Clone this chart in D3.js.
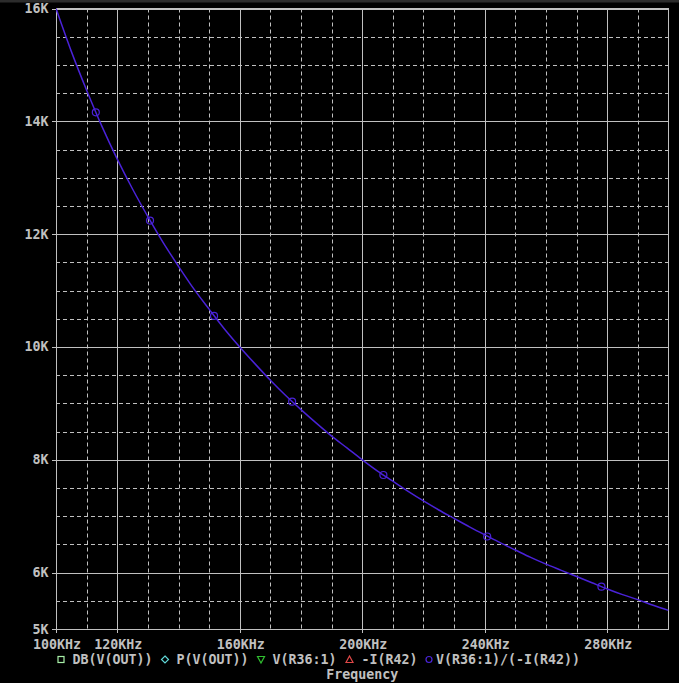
<!DOCTYPE html>
<html><head><meta charset="utf-8">
<script src="https://cdn.jsdelivr.net/npm/d3@7"></script>
<style>html,body{margin:0;padding:0;background:#000;overflow:hidden}</style>
</head><body>
<script>
// Data (frequency in KHz, impedance in ohms)
const freqKHz = [100,105,110,115,120,125,130,135,140,145,150,155,160,165,170,175,180,185,190,195,200,205,210,215,220,225,230,235,240,245,250,255,260,265,270,275,280,285,290,295,300];
const impedance = [16000,15240,14550,13910,13330,12800,12310,11850,11430,11030,10670,10320,10000,9700,9410,9140,8890,8650,8420,8210,8000,7800,7620,7440,7270,7110,6960,6810,6670,6530,6400,6270,6150,6040,5930,5820,5710,5610,5520,5420,5330];
const markerFreqKHz = [113,130.7,151.6,177.1,206.9,240.8,278.1];
const markerImpedance = [14160,12240,10550,9030,7730,6640,5750];
const xTickLabels = ["100KHz","120KHz","160KHz","200KHz","240KHz","280KHz"];
const xTickValues = [100,120,160,200,240,280];
const xMinorValues = [110,130,140,150,170,180,190,210,220,230,250,260,270,290];
const yTickLabels = ["5K","6K","8K","10K","12K","14K","16K"];
const yTickValues = [5000,6000,8000,10000,12000,14000,16000];
const yMinorValues = [5500,6500,7000,7500,8500,9000,9500,10500,11000,11500,12500,13000,13500,14500,15000,15500];
const legendLabels = ["DB(V(OUT))","P(V(OUT))","V(R36:1)","-I(R42)","V(R36:1)/(-I(R42))"];
const legendColors = ["#a8f0a8","#60d8d8","#30c030","#e04848","#4a24d8"];

const W=679,H=683;
const L=56,R=668.5,T=8.5,B=629;
const gridCol="#c0c0c0", curveCol="#4a22d8";
const font="'DejaVu Sans Mono', monospace";
const fs="13.3px";

const svg=d3.select("body").append("svg").attr("width",W).attr("height",H);
svg.append("rect").attr("width",W).attr("height",H).attr("fill","#000");
svg.append("rect").attr("x",0).attr("y",0).attr("width",W).attr("height",2.5).attr("fill","#2c2c2c");

const x=d3.scaleLinear().domain([100,300]).range([L,R]);
const y=d3.scaleLinear().domain([5000,16000]).range([B,T]);

const g=svg.append("g");
g.selectAll(".xm").data(xMinorValues).join("line")
 .attr("x1",d=>Math.round(x(d))+0.5).attr("x2",d=>Math.round(x(d))+0.5)
 .attr("y1",T).attr("y2",B).attr("stroke",gridCol).attr("stroke-width",1).attr("stroke-dasharray","4,3");
g.selectAll(".ym").data(yMinorValues).join("line")
 .attr("y1",d=>Math.round(y(d))+0.5).attr("y2",d=>Math.round(y(d))+0.5)
 .attr("x1",L).attr("x2",R).attr("stroke",gridCol).attr("stroke-width",1).attr("stroke-dasharray","4,3");
g.selectAll(".xM").data(xTickValues).join("line")
 .attr("x1",d=>Math.round(x(d))+0.5).attr("x2",d=>Math.round(x(d))+0.5)
 .attr("y1",T).attr("y2",B+4).attr("stroke",gridCol).attr("stroke-width",1);
g.selectAll(".yM").data(yTickValues).join("line")
 .attr("y1",d=>Math.round(y(d))+0.5).attr("y2",d=>Math.round(y(d))+0.5)
 .attr("x1",L-4).attr("x2",R).attr("stroke",gridCol).attr("stroke-width",1);
g.append("rect").attr("x",L+0.5).attr("y",T).attr("width",R-L-0.5).attr("height",B-T+0.5)
 .attr("fill","none").attr("stroke",gridCol).attr("stroke-width",1);

svg.selectAll(".xl").data(xTickValues).join("text")
 .attr("x",d=>x(d)+1).attr("y",649).attr("text-anchor","middle")
 .attr("font-family",font).attr("font-weight","bold").attr("font-size",fs).attr("fill",gridCol)
 .text((d,i)=>xTickLabels[i]);
svg.selectAll(".yl").data(yTickValues).join("text")
 .attr("x",48.5).attr("y",d=>y(d)+4.5).attr("text-anchor","end")
 .attr("font-family",font).attr("font-weight","bold").attr("font-size",fs).attr("fill",gridCol)
 .text((d,i)=>yTickLabels[i]);

svg.append("clipPath").attr("id","c").append("rect").attr("x",L).attr("y",T-2).attr("width",R-L).attr("height",B-T+4);
const line=d3.line().x((d,i)=>x(freqKHz[i])).y(d=>y(d)).curve(d3.curveMonotoneX);
svg.append("path").datum(impedance).attr("d",line).attr("fill","none")
 .attr("stroke",curveCol).attr("stroke-width",1.5).attr("clip-path","url(#c)");
svg.selectAll(".mk").data(markerImpedance).join("circle")
 .attr("cx",(d,i)=>x(markerFreqKHz[i])).attr("cy",d=>y(d)).attr("r",3.5)
 .attr("fill","none").attr("stroke",curveCol).attr("stroke-width",1.2);

const lg=svg.append("g").attr("font-family",font).attr("font-weight","bold").attr("font-size",fs).attr("fill",gridCol);
const legendTextX=[72.5,176.5,272.5,361.5,436];
const legendSymX=[61,165,261,349.5,429];
const ly=659.5;
legendLabels.forEach((t,i)=>{
  lg.append("text").attr("x",legendTextX[i]).attr("y",ly+4.5).text(t);
  const sx=legendSymX[i], c=legendColors[i];
  let s;
  if(i===0) s=svg.append("rect").attr("x",sx-3).attr("y",ly-3).attr("width",6).attr("height",6);
  else if(i===1) s=svg.append("path").attr("d",`M${sx},${ly-3.5}L${sx+3.5},${ly}L${sx},${ly+3.5}L${sx-3.5},${ly}Z`);
  else if(i===2) s=svg.append("path").attr("d",`M${sx-3.5},${ly-3}L${sx+3.5},${ly-3}L${sx},${ly+3.5}Z`);
  else if(i===3) s=svg.append("path").attr("d",`M${sx-3.5},${ly+3}L${sx+3.5},${ly+3}L${sx},${ly-3.5}Z`);
  else s=svg.append("circle").attr("cx",sx).attr("cy",ly).attr("r",3);
  s.attr("fill","none").attr("stroke",c).attr("stroke-width",1.2);
});
svg.append("text").attr("x",(L+R)/2).attr("y",679).attr("text-anchor","middle")
 .attr("font-family",font).attr("font-weight","bold").attr("font-size",fs).attr("fill",gridCol)
 .text("Frequency");
</script>
</body></html>
